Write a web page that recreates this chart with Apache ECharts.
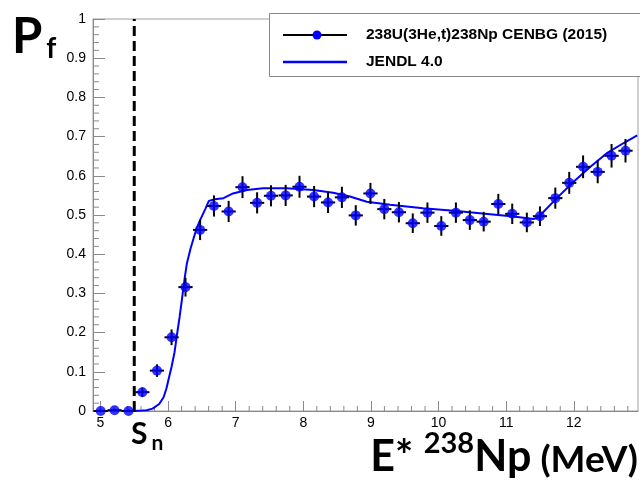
<!DOCTYPE html>
<html><head><meta charset="utf-8">
<script src="https://cdn.jsdelivr.net/npm/echarts@6/dist/echarts.min.js"></script>
<style>html,body{margin:0;padding:0;background:#fff}#c{width:640px;height:484px}</style>
</head><body><div id="c"></div>
<script>
// Experimental data: 238U(3He,t)238Np CENBG (2015)
const expE  = [5.004,5.209,5.415,5.620,5.836,6.052,6.258,6.474,6.679,6.896,7.101,7.317,7.522,7.739,7.944,8.160,8.366,8.571,8.776,8.993,9.198,9.414,9.619,9.836,10.041,10.257,10.463,10.668,10.884,11.090,11.306,11.500,11.727,11.933,12.138,12.354,12.559,12.765];
const expPf = [0.000,0.002,0.000,0.048,0.103,0.188,0.316,0.462,0.523,0.509,0.571,0.531,0.549,0.550,0.572,0.547,0.532,0.545,0.499,0.555,0.515,0.507,0.479,0.506,0.472,0.506,0.487,0.483,0.528,0.503,0.481,0.497,0.543,0.582,0.623,0.610,0.651,0.664];
const expErrY = [0.004,0.004,0.004,0.012,0.016,0.020,0.024,0.026,0.027,0.027,0.028,0.027,0.027,0.027,0.028,0.027,0.027,0.027,0.026,0.027,0.026,0.026,0.025,0.026,0.025,0.026,0.025,0.025,0.026,0.026,0.025,0.025,0.027,0.028,0.029,0.029,0.030,0.030];
const expErrX = 0.105;
// JENDL 4.0 evaluation
const jendlE  = [5.501,5.609,5.685,5.771,5.869,5.934,5.977,6.020,6.052,6.096,6.128,6.171,6.204,6.247,6.279,6.334,6.377,6.420,6.474,6.550,6.604,6.690,6.820,6.960,7.166,7.404,7.750,8.149,8.441,8.690,8.938,9.284,9.771,10.268,10.765,11.111,11.403,11.468,11.749,11.997,12.246,12.484,12.732,12.938];
const jendlPf = [0.000,0.001,0.002,0.006,0.018,0.035,0.058,0.090,0.113,0.150,0.190,0.240,0.283,0.340,0.377,0.415,0.440,0.465,0.487,0.515,0.536,0.540,0.543,0.555,0.564,0.568,0.568,0.564,0.557,0.547,0.534,0.526,0.517,0.510,0.502,0.496,0.490,0.493,0.543,0.585,0.623,0.657,0.683,0.703];
const Sn = 5.50;
const xMin = 4.89, xMax = 12.95;
const xMajorTicks = [5,6,7,8,9,10,11,12];

// minor tick positions (axis decoration)
const xMinor = [];
for (let i = 0; i <= 39; i++) { const v = +(5 + i * 0.2).toFixed(1); if (Math.abs(v - Math.round(v)) > 1e-6 && v < xMax) xMinor.push(v); }
const yMinor = [];
for (let i = 1; i < 50; i++) { if (i % 5 !== 0) yMinor.push(+(i * 0.02).toFixed(2)); }

const chart = echarts.init(document.getElementById('c'));
const font = 'Liberation Sans, Arial, sans-serif';
const titleFont = 'Lato, "Open Sans", sans-serif';
const axisGray = '#8a8a8a';

chart.setOption({
  animation: false,
  backgroundColor: '#fff',
  grid: { left: 93, right: 2, top: 19, bottom: 73, show: true, borderColor: '#a0a0a0', borderWidth: 1, backgroundColor: 'transparent' },
  xAxis: {
    type: 'value', min: xMin, max: xMax,
    axisLine: { show: true, onZero: false, lineStyle: { color: axisGray, width: 1 } },
    axisTick: { show: true, inside: true, length: 10, customValues: xMajorTicks, lineStyle: { color: axisGray } },
    axisLabel: { show: true, customValues: xMajorTicks, fontSize: 14, color: '#000', fontFamily: font, margin: 5 },
    splitLine: { show: false }
  },
  yAxis: {
    type: 'value', min: 0, max: 1, interval: 0.1,
    axisLine: { show: true, lineStyle: { color: axisGray, width: 1 } },
    axisTick: { show: true, inside: true, length: 12, lineStyle: { color: axisGray } },
    axisLabel: { fontSize: 14, color: '#000', fontFamily: font, margin: 7 },
    splitLine: { show: false }
  },
  series: [
    {
      name: 'xMinorTicks', type: 'custom', silent: true, clip: false, z: 1,
      data: xMinor.map(v => [v, 0]),
      renderItem: function (params, api) {
        const p = api.coord([api.value(0), 0]);
        return { type: 'line', shape: { x1: p[0], y1: p[1], x2: p[0], y2: p[1] - 5 }, style: { stroke: axisGray, lineWidth: 1 } };
      }
    },
    {
      name: 'yMinorTicks', type: 'custom', silent: true, clip: false, z: 1,
      data: yMinor.map(v => [xMin, v]),
      renderItem: function (params, api) {
        const p = api.coord([xMin, api.value(1)]);
        return { type: 'line', shape: { x1: p[0], y1: p[1], x2: p[0] + 6, y2: p[1] }, style: { stroke: axisGray, lineWidth: 1 } };
      }
    },
    {
      name: 'Sn', type: 'line', symbol: 'none', silent: true, z: 4,
      data: [[Sn, 0], [Sn, 1]],
      lineStyle: { color: '#000', width: 3, type: [10, 5] }
    },
    {
      name: 'JENDL 4.0', type: 'line', symbol: 'none', z: 3,
      data: jendlE.map((e, i) => [e, jendlPf[i]]),
      lineStyle: { color: '#0000ff', width: 2 }
    },
    {
      name: 'errors', type: 'custom', z: 5,
      data: expE.map((e, i) => [e, expPf[i], expErrX, expErrY[i]]),
      renderItem: function (params, api) {
        const x = api.value(0), y = api.value(1), ex = api.value(2), ey = api.value(3);
        const l = api.coord([x - ex, y]), r = api.coord([x + ex, y]);
        const t = api.coord([x, y + ey]), b = api.coord([x, Math.max(0, y - ey)]);
        return { type: 'group', children: [
          { type: 'line', shape: { x1: l[0], y1: l[1], x2: r[0], y2: r[1] }, style: { stroke: '#000', lineWidth: 2 } },
          { type: 'line', shape: { x1: t[0], y1: t[1], x2: b[0], y2: b[1] }, style: { stroke: '#000', lineWidth: 2 } }
        ]};
      }
    },
    {
      name: '238U(3He,t)238Np CENBG (2015)', type: 'scatter', z: 6,
      data: expE.map((e, i) => [e, expPf[i]]),
      symbol: 'circle', symbolSize: 10, itemStyle: { color: '#0000ff' }
    }
  ],
  graphic: [
    { type: 'rect', z: 10, shape: { x: 269.5, y: 13.5, width: 380, height: 63 }, style: { fill: '#fff', stroke: '#888', lineWidth: 1 } },
    { type: 'line', z: 11, shape: { x1: 283, y1: 35, x2: 347, y2: 35 }, style: { stroke: '#000', lineWidth: 2 } },
    { type: 'circle', z: 12, shape: { cx: 317, cy: 35, r: 4.5 }, style: { fill: '#0000ff' } },
    { type: 'text', z: 11, style: { x: 366, y: 35, text: '238U(3He,t)238Np CENBG (2015)', font: 'bold 15.5px ' + font, fill: '#000', verticalAlign: 'middle' } },
    { type: 'line', z: 11, shape: { x1: 283, y1: 62, x2: 347, y2: 62 }, style: { stroke: '#0000ff', lineWidth: 2.5 } },
    { type: 'text', z: 11, style: { x: 366, y: 62, text: 'JENDL 4.0', font: 'bold 15.5px ' + font, fill: '#000', verticalAlign: 'middle' } },
    { type: 'text', z: 11, style: { x: 12, y: 13, text: '{p|P}{f|f}', rich: {
        p: { fontSize: 49, fontWeight: 'bold', fontFamily: titleFont, fill: '#000', lineHeight: 50, verticalAlign: 'top' },
        f: { fontSize: 28, fontWeight: 'bold', fontFamily: titleFont, fill: '#000', lineHeight: 50, verticalAlign: 'bottom', padding: [0,0,0,4] } } } },
    { type: 'text', z: 11, style: { x: 131, y: 419, text: '{p|S}{f|n}', rich: {
        p: { fontSize: 30, fontWeight: 'bold', fontFamily: titleFont, fill: '#000', lineHeight: 35, verticalAlign: 'top' },
        f: { fontSize: 21, fontWeight: 'bold', fontFamily: titleFont, fill: '#000', lineHeight: 35, verticalAlign: 'bottom', padding: [0,0,0,4] } } } },
    { type: 'text', z: 11, style: { x: 638, y: 479, align: 'right', verticalAlign: 'bottom', text: '{b|E* }{s|238}{b|Np}{m| (MeV)}', rich: {
        b: { fontSize: 43, fontWeight: 'bold', fontFamily: titleFont, fill: '#000', lineHeight: 50, verticalAlign: 'bottom' },
        s: { fontSize: 29, fontWeight: 'bold', fontFamily: titleFont, fill: '#000', lineHeight: 50, verticalAlign: 'top' },
        m: { fontSize: 37, fontWeight: 'bold', fontFamily: titleFont, fill: '#000', lineHeight: 50, verticalAlign: 'bottom' } } } }
  ]
});
</script></body></html>
